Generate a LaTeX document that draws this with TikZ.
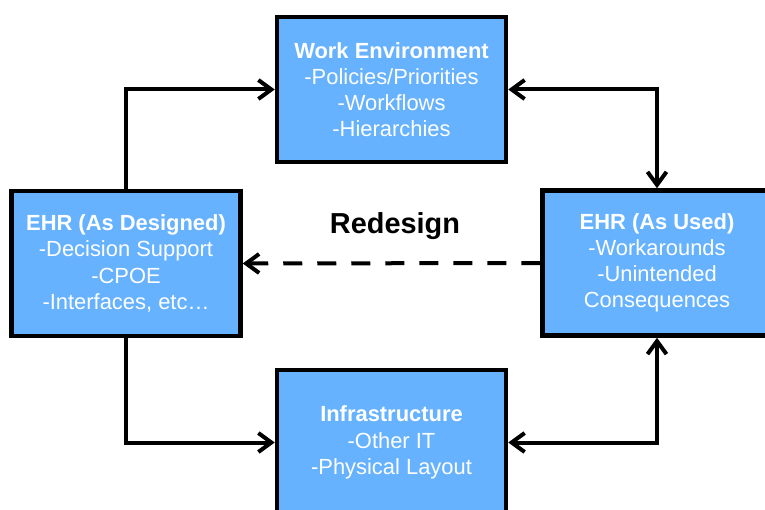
\documentclass[tikz,border=0pt]{standalone}
\usepackage{fontspec}
\setmainfont{Liberation Sans}
\usetikzlibrary{arrows.meta}
\definecolor{boxblue}{RGB}{102,178,255}
\tikzset{
  box/.style={draw=black, line width=4.5bp, fill=boxblue, text=white,
    minimum width=229bp, minimum height=145bp, inner sep=0pt, align=center,
    font=\fontsize{22}{26.3}\selectfont},
  conn/.style={line width=4bp, draw=black},
  tip/.style={-{Straight Barb[length=13bp,width=19bp,line width=4bp]}},
  bitip/.style={{Straight Barb[length=13bp,width=19bp,line width=4bp]}-{Straight Barb[length=13bp,width=19bp,line width=4bp]}},
}
\begin{document}
\begin{tikzpicture}[x=1bp,y=-1bp]
\useasboundingbox (0,0) rectangle (765,510);
\clip (0,0) rectangle (765,510);
\node[box] (we) at (391.5,89.5) {\textbf{Work Environment}\\-Policies/Priorities\\-Workflows\\-Hierarchies};
\node[box] (des) at (126,263.5) {\textbf{EHR (As Designed)}\\-Decision Support\\-CPOE\\-Interfaces, etc…};
\node[box] (used) at (657,263) {\textbf{EHR (As Used)}\\-Workarounds\\-Unintended\\Consequences};
\node[box] (inf) at (391.5,442.5) {\textbf{Infrastructure}\\-Other IT\\-Physical Layout};
\node[font=\fontsize{29}{33}\selectfont\bfseries] (lbl) at (395,226) {Redesign};
\draw[conn,tip] (des.north) |- (we.west);
\draw[conn,bitip] (we.east) -| (used.north);
\draw[conn,tip] (des.south) |- (inf.west);
\draw[conn,bitip] (used.south) |- (inf.east);
\draw[conn,tip,dash pattern=on 19bp off 15bp] (used.west) -- (des.east);
\end{tikzpicture}
\end{document}
